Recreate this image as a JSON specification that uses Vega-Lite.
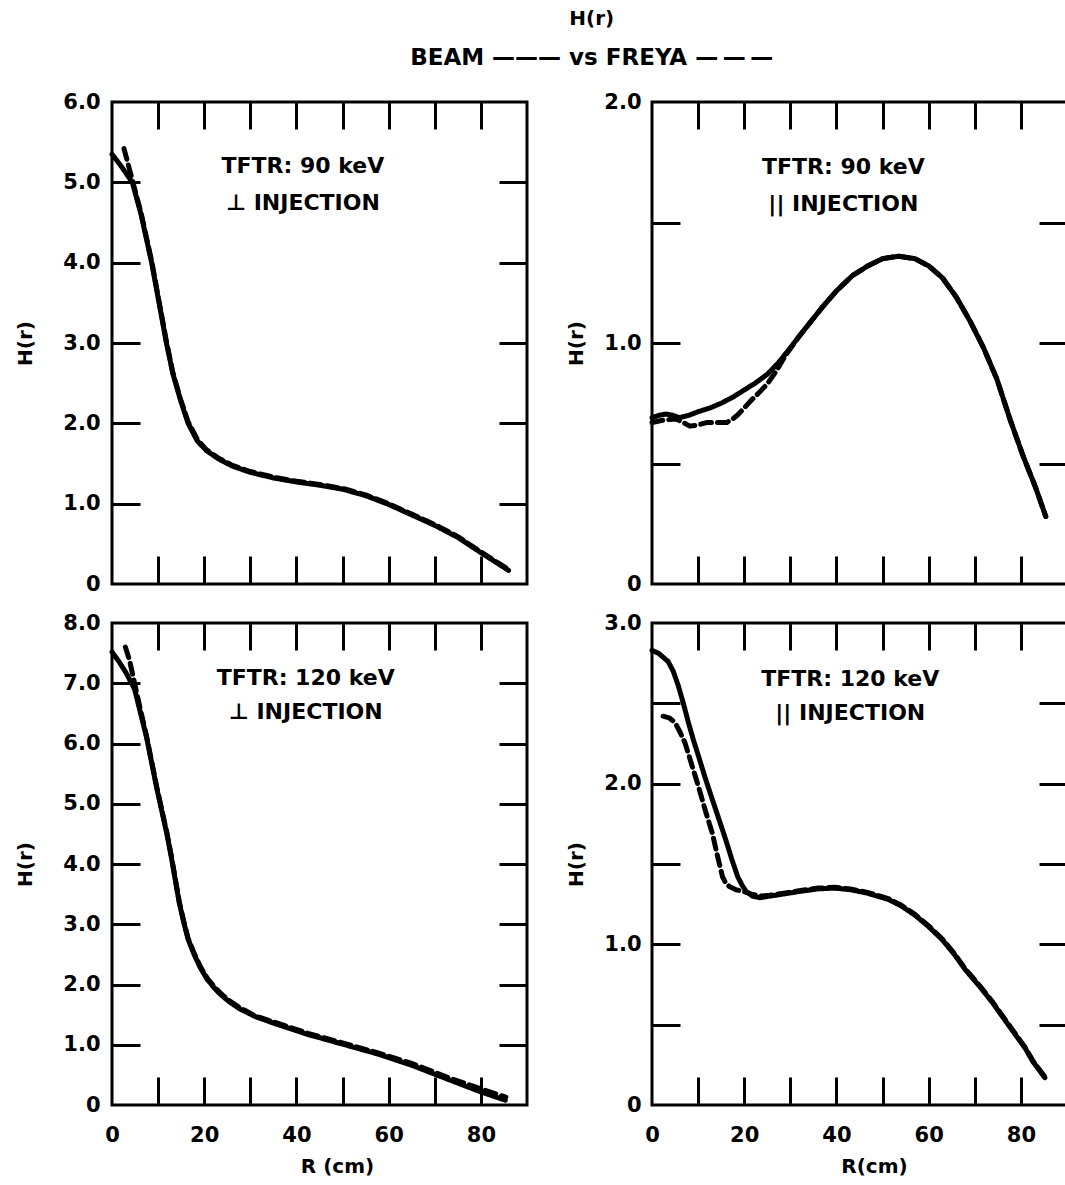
{
  "$schema": "https://vega.github.io/schema/vega-lite/v6.json",
  "background": "white",
  "padding": {"left": 13, "top": 8, "right": 0, "bottom": 0},
  "title": {
    "text": "H(r)",
    "subtitle": "BEAM ——— vs FREYA —\u2009—\u2009—",
    "anchor": "middle",
    "dx": 50,
    "font": "DejaVu Sans",
    "fontSize": 20,
    "fontWeight": "bold",
    "color": "black",
    "subtitleFont": "DejaVu Sans",
    "subtitleFontSize": 23,
    "subtitleFontWeight": "bold",
    "subtitleColor": "black",
    "subtitlePadding": 18,
    "offset": 20
  },
  "config": {
    "view": {"stroke": "black", "strokeWidth": 3},
    "font": "DejaVu Sans",
    "axis": {
      "grid": false,
      "domain": false,
      "ticks": false,
      "labelFont": "DejaVu Sans",
      "labelFontWeight": "bold",
      "labelFontSize": 21,
      "labelColor": "black",
      "labelFlush": false,
      "labelOverlap": false,
      "labelBound": false,
      "titleFont": "DejaVu Sans",
      "titleFontWeight": "bold",
      "titleFontSize": 20,
      "titleColor": "black",
      "tickColor": "black",
      "tickWidth": 3,
      "tickCap": "butt"
    },
    "text": {"font": "DejaVu Sans", "fontWeight": "bold", "fontSize": 22, "color": "black"}
  },
  "datasets": {
    "curves": [
      {"panel": "A", "series": "BEAM", "r": 0, "H": 5.35},
      {"panel": "A", "series": "BEAM", "r": 2, "H": 5.2},
      {"panel": "A", "series": "BEAM", "r": 4.4, "H": 5.0},
      {"panel": "A", "series": "BEAM", "r": 6.3, "H": 4.6},
      {"panel": "A", "series": "BEAM", "r": 8.6, "H": 4.0},
      {"panel": "A", "series": "BEAM", "r": 10.2, "H": 3.5},
      {"panel": "A", "series": "BEAM", "r": 11.8, "H": 3.0},
      {"panel": "A", "series": "BEAM", "r": 13.2, "H": 2.62},
      {"panel": "A", "series": "BEAM", "r": 14.8, "H": 2.3},
      {"panel": "A", "series": "BEAM", "r": 16.5, "H": 2.0},
      {"panel": "A", "series": "BEAM", "r": 18.5, "H": 1.78},
      {"panel": "A", "series": "BEAM", "r": 20.5, "H": 1.66},
      {"panel": "A", "series": "BEAM", "r": 23, "H": 1.56},
      {"panel": "A", "series": "BEAM", "r": 26, "H": 1.47},
      {"panel": "A", "series": "BEAM", "r": 30, "H": 1.39},
      {"panel": "A", "series": "BEAM", "r": 35, "H": 1.32},
      {"panel": "A", "series": "BEAM", "r": 40, "H": 1.27},
      {"panel": "A", "series": "BEAM", "r": 45, "H": 1.23},
      {"panel": "A", "series": "BEAM", "r": 50, "H": 1.18},
      {"panel": "A", "series": "BEAM", "r": 55, "H": 1.1},
      {"panel": "A", "series": "BEAM", "r": 60, "H": 0.99},
      {"panel": "A", "series": "BEAM", "r": 65, "H": 0.86},
      {"panel": "A", "series": "BEAM", "r": 70, "H": 0.73},
      {"panel": "A", "series": "BEAM", "r": 75, "H": 0.58},
      {"panel": "A", "series": "BEAM", "r": 80, "H": 0.39},
      {"panel": "A", "series": "BEAM", "r": 83, "H": 0.28},
      {"panel": "A", "series": "BEAM", "r": 86, "H": 0.17},

      {"panel": "A", "series": "FREYA", "r": 2.6, "H": 5.42},
      {"panel": "A", "series": "FREYA", "r": 4.4, "H": 5.03},
      {"panel": "A", "series": "FREYA", "r": 6.3, "H": 4.62},
      {"panel": "A", "series": "FREYA", "r": 8.6, "H": 4.02},
      {"panel": "A", "series": "FREYA", "r": 10.2, "H": 3.52},
      {"panel": "A", "series": "FREYA", "r": 11.8, "H": 3.02},
      {"panel": "A", "series": "FREYA", "r": 13.2, "H": 2.63},
      {"panel": "A", "series": "FREYA", "r": 14.8, "H": 2.31},
      {"panel": "A", "series": "FREYA", "r": 16.5, "H": 2.02},
      {"panel": "A", "series": "FREYA", "r": 18.5, "H": 1.8},
      {"panel": "A", "series": "FREYA", "r": 20.5, "H": 1.67},
      {"panel": "A", "series": "FREYA", "r": 23, "H": 1.57},
      {"panel": "A", "series": "FREYA", "r": 26, "H": 1.48},
      {"panel": "A", "series": "FREYA", "r": 30, "H": 1.4},
      {"panel": "A", "series": "FREYA", "r": 35, "H": 1.33},
      {"panel": "A", "series": "FREYA", "r": 40, "H": 1.28},
      {"panel": "A", "series": "FREYA", "r": 45, "H": 1.24},
      {"panel": "A", "series": "FREYA", "r": 50, "H": 1.19},
      {"panel": "A", "series": "FREYA", "r": 55, "H": 1.11},
      {"panel": "A", "series": "FREYA", "r": 60, "H": 1.0},
      {"panel": "A", "series": "FREYA", "r": 65, "H": 0.87},
      {"panel": "A", "series": "FREYA", "r": 70, "H": 0.74},
      {"panel": "A", "series": "FREYA", "r": 75, "H": 0.59},
      {"panel": "A", "series": "FREYA", "r": 80, "H": 0.4},
      {"panel": "A", "series": "FREYA", "r": 83, "H": 0.29},
      {"panel": "A", "series": "FREYA", "r": 86, "H": 0.18},

      {"panel": "B", "series": "BEAM", "r": 0, "H": 0.69},
      {"panel": "B", "series": "BEAM", "r": 1.5, "H": 0.7},
      {"panel": "B", "series": "BEAM", "r": 3, "H": 0.705},
      {"panel": "B", "series": "BEAM", "r": 4.5, "H": 0.7},
      {"panel": "B", "series": "BEAM", "r": 6, "H": 0.69},
      {"panel": "B", "series": "BEAM", "r": 8, "H": 0.7},
      {"panel": "B", "series": "BEAM", "r": 10, "H": 0.715},
      {"panel": "B", "series": "BEAM", "r": 12.5, "H": 0.73},
      {"panel": "B", "series": "BEAM", "r": 15, "H": 0.75},
      {"panel": "B", "series": "BEAM", "r": 17.5, "H": 0.775},
      {"panel": "B", "series": "BEAM", "r": 20, "H": 0.805},
      {"panel": "B", "series": "BEAM", "r": 22.5, "H": 0.835},
      {"panel": "B", "series": "BEAM", "r": 25, "H": 0.87},
      {"panel": "B", "series": "BEAM", "r": 27.5, "H": 0.92},
      {"panel": "B", "series": "BEAM", "r": 30, "H": 0.98},
      {"panel": "B", "series": "BEAM", "r": 32, "H": 1.03},
      {"panel": "B", "series": "BEAM", "r": 34.5, "H": 1.09},
      {"panel": "B", "series": "BEAM", "r": 37, "H": 1.15},
      {"panel": "B", "series": "BEAM", "r": 40.2, "H": 1.22},
      {"panel": "B", "series": "BEAM", "r": 43.5, "H": 1.28},
      {"panel": "B", "series": "BEAM", "r": 46.8, "H": 1.32},
      {"panel": "B", "series": "BEAM", "r": 50, "H": 1.35},
      {"panel": "B", "series": "BEAM", "r": 53.5, "H": 1.36},
      {"panel": "B", "series": "BEAM", "r": 57, "H": 1.35},
      {"panel": "B", "series": "BEAM", "r": 60, "H": 1.32},
      {"panel": "B", "series": "BEAM", "r": 63, "H": 1.27},
      {"panel": "B", "series": "BEAM", "r": 66, "H": 1.19},
      {"panel": "B", "series": "BEAM", "r": 69, "H": 1.09},
      {"panel": "B", "series": "BEAM", "r": 71.9, "H": 0.98},
      {"panel": "B", "series": "BEAM", "r": 74.8, "H": 0.85},
      {"panel": "B", "series": "BEAM", "r": 77.7, "H": 0.68},
      {"panel": "B", "series": "BEAM", "r": 80.5, "H": 0.53},
      {"panel": "B", "series": "BEAM", "r": 83.2, "H": 0.4},
      {"panel": "B", "series": "BEAM", "r": 85.4, "H": 0.28},

      {"panel": "B", "series": "FREYA", "r": 0, "H": 0.67},
      {"panel": "B", "series": "FREYA", "r": 2.5, "H": 0.68},
      {"panel": "B", "series": "FREYA", "r": 5.2, "H": 0.685},
      {"panel": "B", "series": "FREYA", "r": 6.8, "H": 0.67},
      {"panel": "B", "series": "FREYA", "r": 8.2, "H": 0.655},
      {"panel": "B", "series": "FREYA", "r": 10, "H": 0.66},
      {"panel": "B", "series": "FREYA", "r": 11.8, "H": 0.67},
      {"panel": "B", "series": "FREYA", "r": 14, "H": 0.67},
      {"panel": "B", "series": "FREYA", "r": 16.2, "H": 0.67},
      {"panel": "B", "series": "FREYA", "r": 17.5, "H": 0.685},
      {"panel": "B", "series": "FREYA", "r": 18.5, "H": 0.7},
      {"panel": "B", "series": "FREYA", "r": 20, "H": 0.73},
      {"panel": "B", "series": "FREYA", "r": 21.4, "H": 0.76},
      {"panel": "B", "series": "FREYA", "r": 23, "H": 0.79},
      {"panel": "B", "series": "FREYA", "r": 25, "H": 0.83},
      {"panel": "B", "series": "FREYA", "r": 27, "H": 0.885},
      {"panel": "B", "series": "FREYA", "r": 29, "H": 0.95},
      {"panel": "B", "series": "FREYA", "r": 32, "H": 1.03},
      {"panel": "B", "series": "FREYA", "r": 34.5, "H": 1.09},
      {"panel": "B", "series": "FREYA", "r": 37, "H": 1.15},
      {"panel": "B", "series": "FREYA", "r": 40.2, "H": 1.22},
      {"panel": "B", "series": "FREYA", "r": 43.5, "H": 1.28},
      {"panel": "B", "series": "FREYA", "r": 46.8, "H": 1.32},
      {"panel": "B", "series": "FREYA", "r": 50, "H": 1.35},
      {"panel": "B", "series": "FREYA", "r": 53.5, "H": 1.36},
      {"panel": "B", "series": "FREYA", "r": 57, "H": 1.35},
      {"panel": "B", "series": "FREYA", "r": 60, "H": 1.32},
      {"panel": "B", "series": "FREYA", "r": 63, "H": 1.27},
      {"panel": "B", "series": "FREYA", "r": 66, "H": 1.19},
      {"panel": "B", "series": "FREYA", "r": 69, "H": 1.09},
      {"panel": "B", "series": "FREYA", "r": 71.9, "H": 0.98},
      {"panel": "B", "series": "FREYA", "r": 74.8, "H": 0.85},
      {"panel": "B", "series": "FREYA", "r": 77.7, "H": 0.68},
      {"panel": "B", "series": "FREYA", "r": 80.5, "H": 0.53},
      {"panel": "B", "series": "FREYA", "r": 83.2, "H": 0.4},
      {"panel": "B", "series": "FREYA", "r": 85.4, "H": 0.28},

      {"panel": "C", "series": "BEAM", "r": 0, "H": 7.52},
      {"panel": "C", "series": "BEAM", "r": 1.5, "H": 7.36},
      {"panel": "C", "series": "BEAM", "r": 3, "H": 7.18},
      {"panel": "C", "series": "BEAM", "r": 4.9, "H": 6.9},
      {"panel": "C", "series": "BEAM", "r": 6.2, "H": 6.5},
      {"panel": "C", "series": "BEAM", "r": 7.5, "H": 6.1},
      {"panel": "C", "series": "BEAM", "r": 8.6, "H": 5.68},
      {"panel": "C", "series": "BEAM", "r": 9.7, "H": 5.26},
      {"panel": "C", "series": "BEAM", "r": 10.8, "H": 4.88},
      {"panel": "C", "series": "BEAM", "r": 11.9, "H": 4.5},
      {"panel": "C", "series": "BEAM", "r": 12.9, "H": 4.1},
      {"panel": "C", "series": "BEAM", "r": 13.8, "H": 3.7},
      {"panel": "C", "series": "BEAM", "r": 14.6, "H": 3.35},
      {"panel": "C", "series": "BEAM", "r": 15.5, "H": 3.05},
      {"panel": "C", "series": "BEAM", "r": 16.5, "H": 2.75},
      {"panel": "C", "series": "BEAM", "r": 17.8, "H": 2.5},
      {"panel": "C", "series": "BEAM", "r": 19.2, "H": 2.27},
      {"panel": "C", "series": "BEAM", "r": 20.7, "H": 2.08},
      {"panel": "C", "series": "BEAM", "r": 22.2, "H": 1.94},
      {"panel": "C", "series": "BEAM", "r": 23.6, "H": 1.83},
      {"panel": "C", "series": "BEAM", "r": 25.5, "H": 1.71},
      {"panel": "C", "series": "BEAM", "r": 27.6, "H": 1.6},
      {"panel": "C", "series": "BEAM", "r": 31, "H": 1.47},
      {"panel": "C", "series": "BEAM", "r": 35, "H": 1.36},
      {"panel": "C", "series": "BEAM", "r": 42.5, "H": 1.17},
      {"panel": "C", "series": "BEAM", "r": 50, "H": 1.01},
      {"panel": "C", "series": "BEAM", "r": 57.5, "H": 0.85},
      {"panel": "C", "series": "BEAM", "r": 65, "H": 0.66},
      {"panel": "C", "series": "BEAM", "r": 72.4, "H": 0.44},
      {"panel": "C", "series": "BEAM", "r": 79.9, "H": 0.22},
      {"panel": "C", "series": "BEAM", "r": 85.3, "H": 0.08},

      {"panel": "C", "series": "FREYA", "r": 2.9, "H": 7.6},
      {"panel": "C", "series": "FREYA", "r": 3.8, "H": 7.38},
      {"panel": "C", "series": "FREYA", "r": 4.9, "H": 7.0},
      {"panel": "C", "series": "FREYA", "r": 6.2, "H": 6.55},
      {"panel": "C", "series": "FREYA", "r": 7.5, "H": 6.12},
      {"panel": "C", "series": "FREYA", "r": 8.6, "H": 5.7},
      {"panel": "C", "series": "FREYA", "r": 9.7, "H": 5.28},
      {"panel": "C", "series": "FREYA", "r": 10.8, "H": 4.9},
      {"panel": "C", "series": "FREYA", "r": 11.9, "H": 4.52},
      {"panel": "C", "series": "FREYA", "r": 12.9, "H": 4.12},
      {"panel": "C", "series": "FREYA", "r": 13.8, "H": 3.72},
      {"panel": "C", "series": "FREYA", "r": 14.6, "H": 3.37},
      {"panel": "C", "series": "FREYA", "r": 15.5, "H": 3.07},
      {"panel": "C", "series": "FREYA", "r": 16.5, "H": 2.77},
      {"panel": "C", "series": "FREYA", "r": 17.8, "H": 2.52},
      {"panel": "C", "series": "FREYA", "r": 19.2, "H": 2.29},
      {"panel": "C", "series": "FREYA", "r": 20.7, "H": 2.1},
      {"panel": "C", "series": "FREYA", "r": 22.2, "H": 1.96},
      {"panel": "C", "series": "FREYA", "r": 23.6, "H": 1.85},
      {"panel": "C", "series": "FREYA", "r": 25.5, "H": 1.73},
      {"panel": "C", "series": "FREYA", "r": 27.6, "H": 1.62},
      {"panel": "C", "series": "FREYA", "r": 31, "H": 1.48},
      {"panel": "C", "series": "FREYA", "r": 35, "H": 1.38},
      {"panel": "C", "series": "FREYA", "r": 42.5, "H": 1.19},
      {"panel": "C", "series": "FREYA", "r": 50, "H": 1.03},
      {"panel": "C", "series": "FREYA", "r": 57.5, "H": 0.87},
      {"panel": "C", "series": "FREYA", "r": 65, "H": 0.69},
      {"panel": "C", "series": "FREYA", "r": 72.4, "H": 0.47},
      {"panel": "C", "series": "FREYA", "r": 79.9, "H": 0.27},
      {"panel": "C", "series": "FREYA", "r": 85.4, "H": 0.13},

      {"panel": "D", "series": "BEAM", "r": 0, "H": 2.83},
      {"panel": "D", "series": "BEAM", "r": 1.5, "H": 2.81},
      {"panel": "D", "series": "BEAM", "r": 3.5, "H": 2.76},
      {"panel": "D", "series": "BEAM", "r": 4.6, "H": 2.7},
      {"panel": "D", "series": "BEAM", "r": 5.7, "H": 2.61},
      {"panel": "D", "series": "BEAM", "r": 6.8, "H": 2.5},
      {"panel": "D", "series": "BEAM", "r": 7.9, "H": 2.38},
      {"panel": "D", "series": "BEAM", "r": 9, "H": 2.27},
      {"panel": "D", "series": "BEAM", "r": 10.1, "H": 2.17},
      {"panel": "D", "series": "BEAM", "r": 11.6, "H": 2.03},
      {"panel": "D", "series": "BEAM", "r": 13.1, "H": 1.9},
      {"panel": "D", "series": "BEAM", "r": 14.5, "H": 1.78},
      {"panel": "D", "series": "BEAM", "r": 16, "H": 1.65},
      {"panel": "D", "series": "BEAM", "r": 17.3, "H": 1.53},
      {"panel": "D", "series": "BEAM", "r": 18.6, "H": 1.42},
      {"panel": "D", "series": "BEAM", "r": 19.5, "H": 1.37},
      {"panel": "D", "series": "BEAM", "r": 20.4, "H": 1.33},
      {"panel": "D", "series": "BEAM", "r": 21.8, "H": 1.3},
      {"panel": "D", "series": "BEAM", "r": 23.4, "H": 1.29},
      {"panel": "D", "series": "BEAM", "r": 25.5, "H": 1.3},
      {"panel": "D", "series": "BEAM", "r": 27.8, "H": 1.31},
      {"panel": "D", "series": "BEAM", "r": 32.2, "H": 1.33},
      {"panel": "D", "series": "BEAM", "r": 36, "H": 1.345},
      {"panel": "D", "series": "BEAM", "r": 39.6, "H": 1.35},
      {"panel": "D", "series": "BEAM", "r": 43, "H": 1.34},
      {"panel": "D", "series": "BEAM", "r": 46.5, "H": 1.32},
      {"panel": "D", "series": "BEAM", "r": 51.2, "H": 1.28},
      {"panel": "D", "series": "BEAM", "r": 54, "H": 1.24},
      {"panel": "D", "series": "BEAM", "r": 57.1, "H": 1.18},
      {"panel": "D", "series": "BEAM", "r": 60, "H": 1.11},
      {"panel": "D", "series": "BEAM", "r": 62.9, "H": 1.03},
      {"panel": "D", "series": "BEAM", "r": 65.5, "H": 0.94},
      {"panel": "D", "series": "BEAM", "r": 68, "H": 0.84},
      {"panel": "D", "series": "BEAM", "r": 71, "H": 0.74},
      {"panel": "D", "series": "BEAM", "r": 73.9, "H": 0.635},
      {"panel": "D", "series": "BEAM", "r": 76.5, "H": 0.53},
      {"panel": "D", "series": "BEAM", "r": 79, "H": 0.43},
      {"panel": "D", "series": "BEAM", "r": 81, "H": 0.35},
      {"panel": "D", "series": "BEAM", "r": 82.6, "H": 0.27},
      {"panel": "D", "series": "BEAM", "r": 85.2, "H": 0.17},

      {"panel": "D", "series": "FREYA", "r": 2.4, "H": 2.42},
      {"panel": "D", "series": "FREYA", "r": 3.7, "H": 2.41},
      {"panel": "D", "series": "FREYA", "r": 5, "H": 2.38},
      {"panel": "D", "series": "FREYA", "r": 6.1, "H": 2.32},
      {"panel": "D", "series": "FREYA", "r": 7.2, "H": 2.25},
      {"panel": "D", "series": "FREYA", "r": 8.6, "H": 2.12},
      {"panel": "D", "series": "FREYA", "r": 10.1, "H": 1.98},
      {"panel": "D", "series": "FREYA", "r": 11.6, "H": 1.83},
      {"panel": "D", "series": "FREYA", "r": 13.1, "H": 1.69},
      {"panel": "D", "series": "FREYA", "r": 14.2, "H": 1.55},
      {"panel": "D", "series": "FREYA", "r": 15.3, "H": 1.42},
      {"panel": "D", "series": "FREYA", "r": 16, "H": 1.38},
      {"panel": "D", "series": "FREYA", "r": 16.8, "H": 1.36},
      {"panel": "D", "series": "FREYA", "r": 18.2, "H": 1.34},
      {"panel": "D", "series": "FREYA", "r": 19.7, "H": 1.33},
      {"panel": "D", "series": "FREYA", "r": 21.9, "H": 1.31},
      {"panel": "D", "series": "FREYA", "r": 23.4, "H": 1.3},
      {"panel": "D", "series": "FREYA", "r": 25.5, "H": 1.305},
      {"panel": "D", "series": "FREYA", "r": 27.8, "H": 1.315},
      {"panel": "D", "series": "FREYA", "r": 32.2, "H": 1.335},
      {"panel": "D", "series": "FREYA", "r": 36, "H": 1.35},
      {"panel": "D", "series": "FREYA", "r": 39.6, "H": 1.355},
      {"panel": "D", "series": "FREYA", "r": 43, "H": 1.345},
      {"panel": "D", "series": "FREYA", "r": 46.5, "H": 1.325},
      {"panel": "D", "series": "FREYA", "r": 51.2, "H": 1.285},
      {"panel": "D", "series": "FREYA", "r": 54, "H": 1.245},
      {"panel": "D", "series": "FREYA", "r": 57.1, "H": 1.185},
      {"panel": "D", "series": "FREYA", "r": 60, "H": 1.115},
      {"panel": "D", "series": "FREYA", "r": 62.9, "H": 1.035},
      {"panel": "D", "series": "FREYA", "r": 65.5, "H": 0.945},
      {"panel": "D", "series": "FREYA", "r": 68, "H": 0.845},
      {"panel": "D", "series": "FREYA", "r": 71, "H": 0.745},
      {"panel": "D", "series": "FREYA", "r": 73.9, "H": 0.64},
      {"panel": "D", "series": "FREYA", "r": 76.5, "H": 0.535},
      {"panel": "D", "series": "FREYA", "r": 79, "H": 0.435},
      {"panel": "D", "series": "FREYA", "r": 81, "H": 0.355},
      {"panel": "D", "series": "FREYA", "r": 82.6, "H": 0.275},
      {"panel": "D", "series": "FREYA", "r": 85.2, "H": 0.175}
    ]
  },
  "columns": 2,
  "spacing": {"row": 14, "column": 34},
  "concat": [
    {
      "width": 415,
      "height": 482,
      "layer": [
        {
          "data": {"name": "curves"},
          "transform": [{"filter": "datum.panel === 'A'"}],
          "mark": {"type": "line", "color": "black", "strokeWidth": 5, "strokeCap": "round", "strokeJoin": "round"},
          "encoding": {
            "x": {"field": "r", "type": "quantitative", "scale": {"domain": [0, 90], "nice": false}, "axis": null},
            "y": {"field": "H", "type": "quantitative", "scale": {"domain": [0, 6], "nice": false},
                  "axis": {"orient": "left", "values": [0, 1, 2, 3, 4, 5, 6], "labelExpr": "datum.value == 0 ? '0' : format(datum.value, '.1f')", "labelPadding": 12, "minExtent": 48, "maxExtent": 48, "title": "H(r)", "titlePadding": 29}},
            "strokeDash": {"field": "series", "type": "nominal", "scale": {"domain": ["BEAM", "FREYA"], "range": [[1, 0], [11, 6]]}, "legend": null}
          }
        },
        {
          "data": {"name": "curves"},
          "transform": [{"filter": "datum.panel === 'A'"}],
          "mark": {"type": "point", "opacity": 0},
          "encoding": {
            "x": {"field": "r", "type": "quantitative", "scale": {"domain": [0, 90], "nice": false},
                  "axis": {"orient": "bottom", "offset": -28, "ticks": true, "tickSize": 28, "labels": false, "title": null, "values": [10, 20, 30, 40, 50, 60, 70, 80]}},
            "y": {"field": "H", "type": "quantitative", "scale": {"domain": [0, 6], "nice": false},
                  "axis": {"orient": "left", "offset": -28, "ticks": true, "tickSize": 28, "labels": false, "title": null, "values": [1, 2, 3, 4, 5]}}
          }
        },
        {
          "data": {"name": "curves"},
          "transform": [{"filter": "datum.panel === 'A'"}],
          "mark": {"type": "point", "opacity": 0},
          "encoding": {
            "x": {"field": "r", "type": "quantitative", "scale": {"domain": [0, 90], "nice": false},
                  "axis": {"orient": "top", "offset": -27, "ticks": true, "tickSize": 27, "labels": false, "title": null, "values": [10, 20, 30, 40, 50, 60, 70, 80]}},
            "y": {"field": "H", "type": "quantitative", "scale": {"domain": [0, 6], "nice": false},
                  "axis": {"orient": "right", "offset": -28, "ticks": true, "tickSize": 28, "labels": false, "title": null, "values": [1, 2, 3, 4, 5]}}
          }
        },
        {
          "data": {"values": [{}]},
          "mark": {"type": "text", "align": "center", "baseline": "alphabetic", "lineHeight": 37, "text": ["TFTR: 90 keV", "⊥ INJECTION"]},
          "encoding": {
            "x": {"datum": 41.4, "type": "quantitative", "axis": null},
            "y": {"datum": 5.11, "type": "quantitative", "axis": null}
          }
        }
      ],
      "resolve": {"axis": {"x": "independent", "y": "independent"}}
    },
    {
      "width": 415,
      "height": 482,
      "layer": [
        {
          "data": {"name": "curves"},
          "transform": [{"filter": "datum.panel === 'B'"}],
          "mark": {"type": "line", "color": "black", "strokeWidth": 5, "strokeCap": "round", "strokeJoin": "round"},
          "encoding": {
            "x": {"field": "r", "type": "quantitative", "scale": {"domain": [0, 90], "nice": false}, "axis": null},
            "y": {"field": "H", "type": "quantitative", "scale": {"domain": [0, 2], "nice": false},
                  "axis": {"orient": "left", "values": [0, 1, 2], "labelExpr": "datum.value == 0 ? '0' : format(datum.value, '.1f')", "labelPadding": 11, "minExtent": 47, "maxExtent": 47, "title": "H(r)", "titlePadding": 19}},
            "strokeDash": {"field": "series", "type": "nominal", "scale": {"domain": ["BEAM", "FREYA"], "range": [[1, 0], [11, 6]]}, "legend": null}
          }
        },
        {
          "data": {"name": "curves"},
          "transform": [{"filter": "datum.panel === 'B'"}],
          "mark": {"type": "point", "opacity": 0},
          "encoding": {
            "x": {"field": "r", "type": "quantitative", "scale": {"domain": [0, 90], "nice": false},
                  "axis": {"orient": "bottom", "offset": -28, "ticks": true, "tickSize": 28, "labels": false, "title": null, "values": [10, 20, 30, 40, 50, 60, 70, 80]}},
            "y": {"field": "H", "type": "quantitative", "scale": {"domain": [0, 2], "nice": false},
                  "axis": {"orient": "left", "offset": -28, "ticks": true, "tickSize": 28, "labels": false, "title": null, "values": [0.5, 1, 1.5]}}
          }
        },
        {
          "data": {"name": "curves"},
          "transform": [{"filter": "datum.panel === 'B'"}],
          "mark": {"type": "point", "opacity": 0},
          "encoding": {
            "x": {"field": "r", "type": "quantitative", "scale": {"domain": [0, 90], "nice": false},
                  "axis": {"orient": "top", "offset": -27, "ticks": true, "tickSize": 27, "labels": false, "title": null, "values": [10, 20, 30, 40, 50, 60, 70, 80]}},
            "y": {"field": "H", "type": "quantitative", "scale": {"domain": [0, 2], "nice": false},
                  "axis": {"orient": "right", "offset": -28, "ticks": true, "tickSize": 28, "labels": false, "title": null, "values": [0.5, 1, 1.5]}}
          }
        },
        {
          "data": {"values": [{}]},
          "mark": {"type": "text", "align": "center", "baseline": "alphabetic", "lineHeight": 37, "text": ["TFTR: 90 keV", "|| INJECTION"]},
          "encoding": {
            "x": {"datum": 41.5, "type": "quantitative", "axis": null},
            "y": {"datum": 1.7, "type": "quantitative", "axis": null}
          }
        }
      ],
      "resolve": {"axis": {"x": "independent", "y": "independent"}}
    },
    {
      "width": 415,
      "height": 482,
      "layer": [
        {
          "data": {"name": "curves"},
          "transform": [{"filter": "datum.panel === 'C'"}],
          "mark": {"type": "line", "color": "black", "strokeWidth": 5, "strokeCap": "round", "strokeJoin": "round"},
          "encoding": {
            "x": {"field": "r", "type": "quantitative", "scale": {"domain": [0, 90], "nice": false},
                  "axis": {"orient": "bottom", "values": [0, 20, 40, 60, 80], "labelPadding": 19, "title": "R (cm)", "titlePadding": 11, "titleX": 225}},
            "y": {"field": "H", "type": "quantitative", "scale": {"domain": [0, 8], "nice": false},
                  "axis": {"orient": "left", "values": [0, 1, 2, 3, 4, 5, 6, 7, 8], "labelExpr": "datum.value == 0 ? '0' : format(datum.value, '.1f')", "labelPadding": 12, "minExtent": 48, "maxExtent": 48, "title": "H(r)", "titlePadding": 29}},
            "strokeDash": {"field": "series", "type": "nominal", "scale": {"domain": ["BEAM", "FREYA"], "range": [[1, 0], [11, 6]]}, "legend": null}
          }
        },
        {
          "data": {"name": "curves"},
          "transform": [{"filter": "datum.panel === 'C'"}],
          "mark": {"type": "point", "opacity": 0},
          "encoding": {
            "x": {"field": "r", "type": "quantitative", "scale": {"domain": [0, 90], "nice": false},
                  "axis": {"orient": "bottom", "offset": -28, "ticks": true, "tickSize": 28, "labels": false, "title": null, "values": [10, 20, 30, 40, 50, 60, 70, 80]}},
            "y": {"field": "H", "type": "quantitative", "scale": {"domain": [0, 8], "nice": false},
                  "axis": {"orient": "left", "offset": -28, "ticks": true, "tickSize": 28, "labels": false, "title": null, "values": [1, 2, 3, 4, 5, 6, 7]}}
          }
        },
        {
          "data": {"name": "curves"},
          "transform": [{"filter": "datum.panel === 'C'"}],
          "mark": {"type": "point", "opacity": 0},
          "encoding": {
            "x": {"field": "r", "type": "quantitative", "scale": {"domain": [0, 90], "nice": false},
                  "axis": {"orient": "top", "offset": -27, "ticks": true, "tickSize": 27, "labels": false, "title": null, "values": [10, 20, 30, 40, 50, 60, 70, 80]}},
            "y": {"field": "H", "type": "quantitative", "scale": {"domain": [0, 8], "nice": false},
                  "axis": {"orient": "right", "offset": -28, "ticks": true, "tickSize": 28, "labels": false, "title": null, "values": [1, 2, 3, 4, 5, 6, 7]}}
          }
        },
        {
          "data": {"values": [{}]},
          "mark": {"type": "text", "align": "center", "baseline": "alphabetic", "lineHeight": 34, "text": ["TFTR: 120 keV", "⊥ INJECTION"]},
          "encoding": {
            "x": {"datum": 42, "type": "quantitative", "axis": null},
            "y": {"datum": 6.97, "type": "quantitative", "axis": null}
          }
        }
      ],
      "resolve": {"axis": {"x": "independent", "y": "independent"}}
    },
    {
      "width": 415,
      "height": 482,
      "layer": [
        {
          "data": {"name": "curves"},
          "transform": [{"filter": "datum.panel === 'D'"}],
          "mark": {"type": "line", "color": "black", "strokeWidth": 5, "strokeCap": "round", "strokeJoin": "round"},
          "encoding": {
            "x": {"field": "r", "type": "quantitative", "scale": {"domain": [0, 90], "nice": false},
                  "axis": {"orient": "bottom", "values": [0, 20, 40, 60, 80], "labelPadding": 19, "title": "R(cm)", "titlePadding": 11, "titleX": 222}},
            "y": {"field": "H", "type": "quantitative", "scale": {"domain": [0, 3], "nice": false},
                  "axis": {"orient": "left", "values": [0, 1, 2, 3], "labelExpr": "datum.value == 0 ? '0' : format(datum.value, '.1f')", "labelPadding": 11, "minExtent": 47, "maxExtent": 47, "title": "H(r)", "titlePadding": 19}},
            "strokeDash": {"field": "series", "type": "nominal", "scale": {"domain": ["BEAM", "FREYA"], "range": [[1, 0], [11, 6]]}, "legend": null}
          }
        },
        {
          "data": {"name": "curves"},
          "transform": [{"filter": "datum.panel === 'D'"}],
          "mark": {"type": "point", "opacity": 0},
          "encoding": {
            "x": {"field": "r", "type": "quantitative", "scale": {"domain": [0, 90], "nice": false},
                  "axis": {"orient": "bottom", "offset": -28, "ticks": true, "tickSize": 28, "labels": false, "title": null, "values": [10, 20, 30, 40, 50, 60, 70, 80]}},
            "y": {"field": "H", "type": "quantitative", "scale": {"domain": [0, 3], "nice": false},
                  "axis": {"orient": "left", "offset": -28, "ticks": true, "tickSize": 28, "labels": false, "title": null, "values": [0.5, 1, 1.5, 2, 2.5]}}
          }
        },
        {
          "data": {"name": "curves"},
          "transform": [{"filter": "datum.panel === 'D'"}],
          "mark": {"type": "point", "opacity": 0},
          "encoding": {
            "x": {"field": "r", "type": "quantitative", "scale": {"domain": [0, 90], "nice": false},
                  "axis": {"orient": "top", "offset": -27, "ticks": true, "tickSize": 27, "labels": false, "title": null, "values": [10, 20, 30, 40, 50, 60, 70, 80]}},
            "y": {"field": "H", "type": "quantitative", "scale": {"domain": [0, 3], "nice": false},
                  "axis": {"orient": "right", "offset": -28, "ticks": true, "tickSize": 28, "labels": false, "title": null, "values": [0.5, 1, 1.5, 2, 2.5]}}
          }
        },
        {
          "data": {"values": [{}]},
          "mark": {"type": "text", "align": "center", "baseline": "alphabetic", "lineHeight": 34, "text": ["TFTR: 120 keV", "|| INJECTION"]},
          "encoding": {
            "x": {"datum": 43, "type": "quantitative", "axis": null},
            "y": {"datum": 2.61, "type": "quantitative", "axis": null}
          }
        }
      ],
      "resolve": {"axis": {"x": "independent", "y": "independent"}}
    }
  ]
}
